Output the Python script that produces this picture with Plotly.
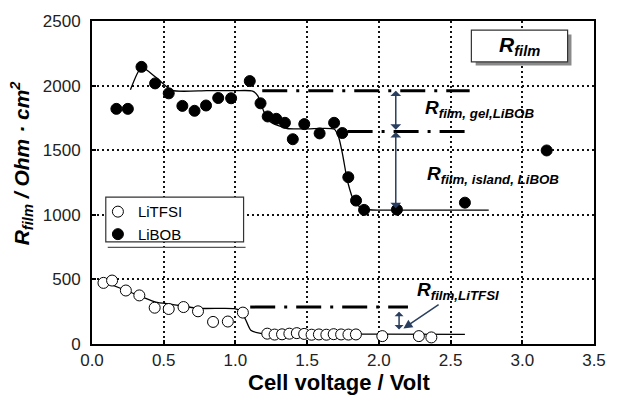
import plotly.graph_objects as go

# Film resistance vs. cell voltage for two electrolytes
libob_v = [0.17, 0.25, 0.345, 0.44, 0.535, 0.63, 0.715, 0.795, 0.88, 0.97,
           1.10, 1.175, 1.225, 1.285, 1.345, 1.40, 1.48, 1.587, 1.688, 1.745,
           1.787, 1.841, 1.897, 2.126, 2.60, 3.17]
libob_r = [1820, 1820, 2145, 2017, 1940, 1843, 1805, 1846, 1904, 1902,
           2035, 1863, 1761, 1743, 1712, 1585, 1702, 1630, 1712, 1633,
           1291, 1110, 1038, 1040, 1094, 1498]

litfsi_v = [0.08, 0.14, 0.236, 0.33, 0.437, 0.535, 0.638, 0.739, 0.844, 0.947,
            1.052, 1.222, 1.273, 1.325, 1.376, 1.428, 1.479, 1.531, 1.582,
            1.634, 1.685, 1.737, 1.788, 1.840, 2.024, 2.279, 2.366]
litfsi_r = [473, 491, 414, 376, 281, 271, 286, 253, 171, 174,
            243, 80, 73, 75, 80, 84, 78, 72, 74, 72,
            76, 74, 73, 74, 61, 61, 51]

# Guide-to-the-eye curves
libob_fit_v = [0.268, 0.345, 0.45, 0.558, 0.8, 1.0, 1.12, 1.155, 1.20, 1.245,
               1.36, 1.50, 1.69, 1.72, 1.748, 1.782, 1.828, 1.885, 1.954, 2.2, 2.766]
libob_fit_r = [1968, 2140, 2060, 1963, 1961, 1961, 1958, 1922, 1795, 1718,
               1668, 1665, 1662, 1600, 1462, 1258, 1104, 1048, 1037, 1036, 1036]
litfsi_fit_v = [0.08, 0.238, 0.352, 0.444, 0.558, 0.741, 0.993, 1.039, 1.073,
                1.107, 1.176, 1.40, 2.0, 2.6]
litfsi_fit_r = [483, 414, 363, 324, 307, 276, 274, 255, 184,
                107, 82, 77, 76, 75]

# Resistance plateaus (dash-dot reference levels)
gel_level_v = [1.187, 2.633]
gel_level_r = [1961, 1961]
island_level_v = [1.782, 2.62]
island_level_r = [1645, 1645]
litfsi_level_v = [1.103, 2.203]
litfsi_level_r = [286, 286]

x_ticks = [0.0, 0.5, 1.0, 1.5, 2.0, 2.5, 3.0, 3.5]
y_ticks = [0, 500, 1000, 1500, 2000, 2500]

FONT = "Liberation Sans, Arial, Helvetica, sans-serif"
DASHDOT = "25px,9px,3px,9px"

fig = go.Figure()

for xs, ys in [(gel_level_v, gel_level_r), (island_level_v, island_level_r),
               (litfsi_level_v, litfsi_level_r)]:
    fig.add_trace(go.Scatter(x=xs, y=ys, mode="lines", showlegend=False,
                             hoverinfo="skip",
                             line=dict(color="black", width=3, dash=DASHDOT)))

fig.add_trace(go.Scatter(x=libob_fit_v, y=libob_fit_r, mode="lines",
                         line=dict(color="black", width=1.3, shape="spline",
                                   smoothing=0.6),
                         showlegend=False, hoverinfo="skip"))
fig.add_trace(go.Scatter(x=litfsi_fit_v, y=litfsi_fit_r, mode="lines",
                         line=dict(color="black", width=1.3, shape="spline",
                                   smoothing=0.6),
                         showlegend=False, hoverinfo="skip"))

fig.add_trace(go.Scatter(x=litfsi_v, y=litfsi_r, mode="markers", name="LiTFSI",
                         marker=dict(symbol="circle", size=11, color="white",
                                     line=dict(color="black", width=1))))
fig.add_trace(go.Scatter(x=libob_v, y=libob_r, mode="markers", name="LiBOB",
                         marker=dict(symbol="circle", size=11, color="black",
                                     line=dict(color="black", width=1))))

axis_common = dict(
    showgrid=True, gridcolor="#111", gridwidth=2, griddash="2px,3px",
    showline=True, mirror=True, linecolor="black", linewidth=2,
    zeroline=False, ticks="inside", ticklen=4, tickwidth=1.5, tickcolor="black",
    tickfont=dict(family=FONT, size=17, color="#222"),
)
fig.update_xaxes(range=[0, 3.5], tickvals=x_ticks, tickformat=".1f",
                 **axis_common)
fig.update_yaxes(range=[0, 2500], tickvals=y_ticks, ticklabelstandoff=6,
                 **axis_common)

annotations = [
    # axis titles
    dict(xref="paper", yref="paper", x=0.492, y=-0.118, xanchor="center",
         yanchor="middle", showarrow=False,
         text="<b>Cell voltage / Volt</b>",
         font=dict(family=FONT, size=22, color="black")),
    dict(xref="paper", yref="paper", x=-0.141, y=0.56, xanchor="center",
         yanchor="middle", showarrow=False, textangle=-90,
         text="<b><i>R<sub>film</sub> / Ohm · cm<sup>2</sup></i></b>",
         font=dict(family=FONT, size=21, color="black")),
    # labels
    dict(x=2.308, y=1820, xanchor="left", yanchor="middle", showarrow=False,
         text="<b><i>R<sub>film, gel,LiBOB</sub></i></b>",
         font=dict(family=FONT, size=19, color="black")),
    dict(x=2.32, y=1309, xanchor="left", yanchor="middle", showarrow=False,
         text="<b><i>R<sub>film, island, LiBOB</sub></i></b>",
         font=dict(family=FONT, size=19, color="black")),
    dict(x=2.25, y=414, xanchor="left", yanchor="middle", showarrow=False,
         text="<b><i>R<sub>film,LiTFSI</sub></i></b>",
         font=dict(family=FONT, size=19, color="black")),
    dict(x=2.98, y=2306, xanchor="center", yanchor="middle", showarrow=False,
         text="<b><i>R<sub>film</sub></i></b>",
         font=dict(family=FONT, size=21, color="black")),
    # double arrows marking the resistance contributions
    dict(x=2.118, y=1961, ax=2.118, ay=1647, axref="x", ayref="y",
         showarrow=True, arrowhead=1, startarrowhead=1, arrowside="end+start",
         arrowwidth=1.5, arrowsize=1.2, startarrowsize=1.2, text=""),
    dict(x=2.118, y=1640, ax=2.118, ay=1040, axref="x", ayref="y",
         showarrow=True, arrowhead=1, startarrowhead=1, arrowside="end+start",
         arrowwidth=1.5, arrowsize=1.2, startarrowsize=1.2, text=""),
    dict(x=2.141, y=250, ax=2.141, ay=100, axref="x", ayref="y",
         showarrow=True, arrowhead=1, startarrowhead=1, arrowside="end+start",
         arrowwidth=1.5, arrowsize=1.0, startarrowsize=1.0, text=""),
    dict(x=2.171, y=120, ax=2.427, ay=312, axref="x", ayref="y",
         showarrow=True, arrowhead=2, arrowwidth=1.5, arrowsize=1.2, text=""),
]

shapes = [
    # label box with drop shadow
    dict(type="rect", xref="x", yref="y", x0=2.675, x1=3.343, y0=2155, y1=2396,
         fillcolor="#8a8a8a", line=dict(width=0), layer="above"),
    dict(type="rect", xref="x", yref="y", x0=2.645, x1=3.316, y0=2183, y1=2429,
         fillcolor="white", line=dict(color="#333", width=1.2), layer="above"),
    # legend frame
    dict(type="rect", xref="paper", yref="paper",
         x0=(106 - 92) / 510, x1=(246 - 92) / 510,
         y0=(344 - 241) / 326, y1=(344 - 195.7) / 326,
         fillcolor="white", line=dict(color="#333", width=1.2), layer="above"),
    dict(type="line", xref="paper", yref="paper",
         x0=(108 - 92) / 510, x1=(248 - 92) / 510,
         y0=(344 - 246.5) / 326, y1=(344 - 246.5) / 326,
         line=dict(color="#555", width=1.2), layer="above"),
]

fig.update_layout(
    width=618, height=395,
    margin=dict(l=92, r=16, t=18, b=51),
    paper_bgcolor="white", plot_bgcolor="white",
    showlegend=True,
    legend=dict(x=(98 - 92) / 510, y=(344 - 194) / 326, xanchor="left",
                yanchor="top", bgcolor="rgba(0,0,0,0)", borderwidth=0,
                font=dict(family=FONT, size=15, color="black"),
                tracegroupgap=0),
    annotations=annotations,
    shapes=shapes,
)

fig.write_html("out.html")
